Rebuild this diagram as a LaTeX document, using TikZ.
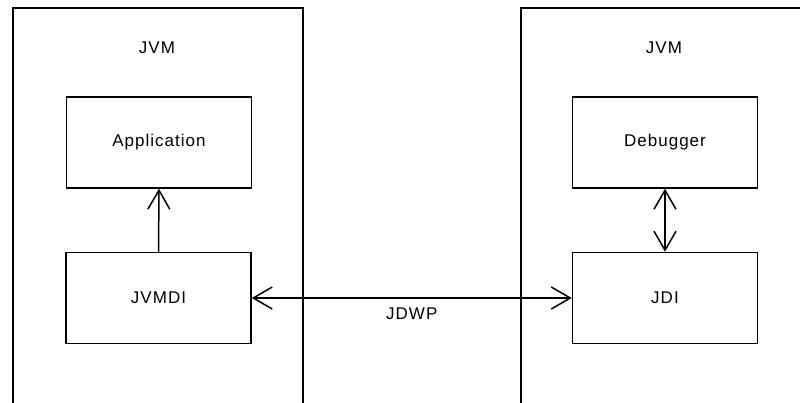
\documentclass[tikz,border=0pt]{standalone}
\usepackage{fontspec}
\setmainfont[LetterSpace=6]{Liberation Sans}
\usetikzlibrary{positioning,arrows.meta}
\tikzset{
  block/.style={draw, line width=1.5pt, minimum width=185pt, minimum height=91pt, inner sep=0pt, align=center},
  frame/.style={line width=1.5pt},
  link/.style={line width=1.5pt},
}

\begin{document}
\begin{tikzpicture}[x=1pt, y=-1pt, >={Straight Barb[length=19pt, width=22pt, line width=1.5pt]}, font=\fontsize{17}{20}\selectfont]
\useasboundingbox (0,0) rectangle (800,403);

% --- the two JVMs (open at the bottom) ---
\draw[frame] (13,403) -- (13,8) -- (303,8) -- (303,403);
\draw[frame] (521,403) -- (521,8) -- (800,8);
\node (jvmleft)  at (157,48) {JVM};
\node (jvmright) at (664,48) {JVM};

% --- boxes inside ---
\node (app)   [block] at (159,142.5) {Application};
\node (jvmdi) [block] at (158.5,298) {JVMDI};
\node (dbg)   [block] at (665,142.5) {Debugger};
\node (jdi)   [block] at (665,298)   {JDI};

% --- connectors ---
\draw[link,->]  (jvmdi.north) -- (app.south);
\draw[link,<->] (dbg.south) -- (jdi.north);
\draw[link,<->] (jvmdi.east) -- (jdi.west) node (jdwp) [pos=0.5, below=6pt] {JDWP};

\end{tikzpicture}
\end{document}
